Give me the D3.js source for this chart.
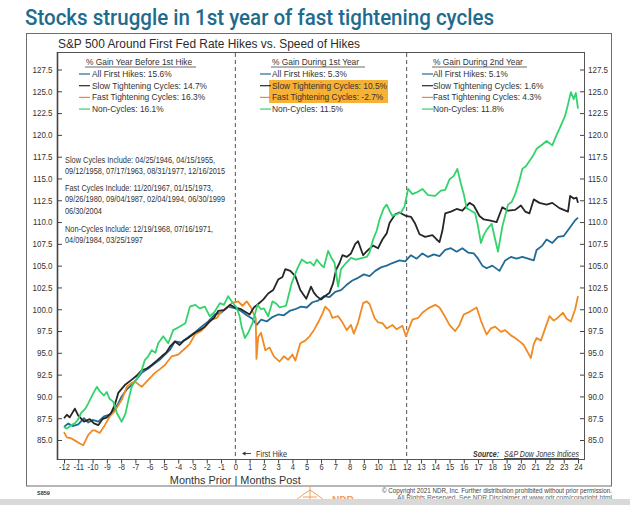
<!DOCTYPE html>
<html>
<head>
<meta charset="utf-8">
<script src="https://cdn.jsdelivr.net/npm/d3@7"></script>
<style>
  html, body { margin: 0; padding: 0; background: #fff; }
  svg { display: block; }
  .narrow { font-family: "Liberation Sans", Arial, sans-serif; }
  .arial { font-family: "Liberation Sans", Arial, sans-serif; }
</style>
</head>
<body>
<div id="chart"></div>
<script>
(function (d3) {
    'use strict';

    // ---- data (month offset, index level) ----
    var seriesNames = ['All First Hikes', 'Slow Tightening Cycles', 'Fast Tightening Cycles', 'Non-Cycles'];
    var seriesColors = ['#1f6b98', '#262626', '#f08a24', '#33d36b'];

    var gainBefore = [15.6, 14.7, 16.3, 16.1];
    var gainYear1 = [5.3, 10.5, -2.7, 11.5];
    var gainYear2 = [5.1, 1.6, 4.3, 11.8];

    var xTickLabels = [-12, -11, -10, -9, -8, -7, -6, -5, -4, -3, -2, -1, 0, 1, 2, 3, 4, 5, 6, 7, 8, 9, 10, 11, 12,
        13, 14, 15, 16, 17, 18, 19, 20, 21, 22, 23, 24];
    var yTickLabels = [85, 87.5, 90, 92.5, 95, 97.5, 100, 102.5, 105, 107.5, 110, 112.5, 115, 117.5, 120, 122.5, 125, 127.5];

    var allHikes = [[-12,86.5],[-11.7,86.9],[-11.4,86.6],[-11,86.8],[-10.6,87.5],[-10.3,87.0],[-10,87.3],[-9.6,87.1],
        [-9.2,87.7],[-8.8,87.9],[-8.5,88.4],[-8.2,89.2],[-7.96,90.0],[-7.6,90.8],[-7.27,91.3],[-6.9,92.0],[-6.56,92.7],
        [-6.1,93.2],[-5.63,93.8],[-5.3,94.2],[-4.93,94.8],[-4.6,95.3],[-4.23,96.3],[-3.8,96.2],[-3.3,96.8],[-2.8,97.4],
        [-2.36,98.0],[-1.9,98.6],[-1.43,99.4],[-1.0,99.6],[-0.5,100.3],[0,100.1],[0.4,99.8],[0.8,99.3],[1.2,98.9],
        [1.5,98.2],[1.8,98.8],[2.2,98.6],[2.6,99.1],[3.0,99.4],[3.4,99.3],[3.8,99.8],[4.2,100.0],[4.6,100.3],[5.0,100.2],
        [5.4,100.8],[5.8,101.0],[6.2,101.5],[6.6,101.4],[7.0,102.0],[7.4,102.2],[7.8,102.8],[8.2,103.3],[8.6,103.6],
        [9.0,104.0],[9.4,103.8],[9.8,104.4],[10.2,104.8],[10.6,105.0],[11.0,105.3],[11.5,105.6],[11.9,105.5],[12.3,106.2],
        [12.7,105.8],[13.1,106.4],[13.5,106.0],[13.9,106.3],[14.3,106.1],[14.7,106.8],[15.1,107.0],[15.5,106.6],
        [15.9,107.0],[16.3,106.5],[16.7,106.4],[17.0,105.8],[17.3,105.0],[17.6,104.7],[18.0,105.0],[18.5,104.4],
        [18.9,105.6],[19.3,106.0],[19.7,105.8],[20.1,106.0],[20.5,105.8],[20.9,105.6],[21.1,106.8],[21.5,107.3],
        [21.8,108.0],[22.2,107.6],[22.6,108.3],[23.0,108.4],[23.4,109.3],[23.8,110.2],[24,110.5]];

    var slowCycles = [[-12,87.5],[-11.8,87.9],[-11.6,87.6],[-11.24,88.6],[-11.0,87.8],[-10.6,87.1],[-10.2,87.4],
        [-9.9,86.9],[-9.6,86.7],[-9.3,87.4],[-9.0,87.6],[-8.7,88.1],[-8.45,89.0],[-8.2,90.4],[-7.74,91.3],[-7.27,91.9],
        [-6.9,92.4],[-6.56,93.0],[-6.2,93.2],[-5.86,93.6],[-5.5,94.1],[-5.16,94.6],[-4.85,95.0],[-4.58,95.7],[-4.23,96.3],
        [-3.9,95.9],[-3.6,96.4],[-3.3,96.7],[-2.83,97.3],[-2.5,97.6],[-2.13,98.0],[-1.8,98.6],[-1.5,99.0],[-1.2,99.8],
        [-0.8,99.9],[-0.38,100.5],[0,100.2],[0.4,100.0],[0.8,99.6],[1.0,99.4],[1.3,100.2],[1.6,100.6],[1.95,101.1],
        [2.3,101.8],[2.65,102.2],[3.0,103.4],[3.3,103.7],[3.5,104.6],[3.85,104.4],[4.2,103.8],[4.55,102.2],[4.8,101.6],
        [4.97,101.2],[5.3,102.6],[5.5,101.9],[5.7,101.5],[6.0,101.1],[6.2,101.4],[6.6,101.9],[6.85,103.0],[7.05,104.5],
        [7.3,105.3],[7.5,106.2],[7.8,106.0],[8.1,106.4],[8.4,107.5],[8.6,107.8],[8.95,106.2],[9.3,106.8],[9.65,107.3],
        [10.0,107.0],[10.3,108.0],[10.6,108.7],[10.8,109.9],[11.2,110.9],[11.5,111.1],[11.95,110.7],[12.3,110.6],
        [12.6,109.8],[12.9,108.6],[13.3,108.3],[13.8,108.5],[14.1,108.0],[14.3,107.7],[14.5,109.0],[14.7,111.0],
        [15.1,111.2],[15.5,111.5],[15.9,111.3],[16.4,112.2],[16.7,111.9],[17.1,110.7],[17.4,110.3],[17.8,110.2],
        [18.3,110.0],[18.7,111.7],[19.1,111.3],[19.6,111.4],[20.0,111.9],[20.3,111.2],[20.6,111.0],[20.9,112.6],
        [21.3,112.2],[21.8,112.0],[22.2,112.2],[22.7,111.6],[23.0,111.4],[23.3,111.2],[23.45,113.0],[23.7,112.7],
        [23.9,112.8],[24,112.2]];

    var fastCycles = [[-12,85.9],[-11.8,85.3],[-11.5,85.2],[-11.2,84.9],[-10.9,84.6],[-10.65,84.4],[-10.3,85.6],
        [-10.0,86.1],[-9.84,86.1],[-9.5,85.8],[-9.14,86.7],[-8.8,87.7],[-8.45,88.3],[-7.96,89.6],[-7.6,91.1],[-7.3,91.5],
        [-7.03,91.7],[-6.56,91.1],[-6.1,91.9],[-5.63,92.7],[-5.3,93.1],[-4.93,93.6],[-4.46,94.6],[-4.0,94.8],[-3.53,95.5],
        [-3.2,96.0],[-2.83,97.1],[-2.4,97.5],[-2.0,98.2],[-1.66,98.8],[-1.3,99.0],[-0.96,99.8],[-0.6,100.1],[-0.26,100.7],
        [0.2,100.9],[0.5,100.4],[0.8,100.9],[1.1,100.2],[1.3,99.4],[1.43,99.0],[1.48,94.3],[1.6,96.8],[1.8,97.3],
        [2.1,95.3],[2.4,95.6],[2.7,94.6],[3.1,94.0],[3.4,94.6],[3.7,94.2],[4.0,94.8],[4.2,94.1],[4.55,96.1],[4.9,96.4],
        [5.2,96.9],[5.5,97.6],[5.9,98.8],[6.1,99.5],[6.3,100.3],[6.6,99.8],[6.8,99.0],[7.2,99.2],[7.5,98.5],[7.8,97.6],
        [8.1,98.2],[8.3,97.2],[8.6,98.5],[8.95,100.7],[9.2,100.9],[9.4,100.6],[9.75,99.0],[10.0,98.5],[10.3,98.4],
        [10.6,97.8],[11.0,98.2],[11.3,97.7],[11.7,98.1],[11.95,96.9],[12.4,98.8],[12.8,99.0],[13.1,99.6],[13.5,100.1],
        [14.0,100.5],[14.3,100.2],[14.6,99.4],[15.0,98.2],[15.4,97.5],[15.7,98.2],[16.0,99.4],[16.4,99.7],[16.9,100.2],
        [17.2,98.7],[17.6,97.1],[17.9,97.8],[18.2,98.0],[18.6,97.4],[18.9,97.6],[19.3,97.0],[19.6,96.7],[20.0,96.2],
        [20.2,95.9],[20.5,95.0],[20.7,94.4],[20.9,96.0],[21.1,96.7],[21.4,96.4],[21.7,97.8],[22.0,99.2],[22.3,98.7],
        [22.5,98.9],[22.95,99.6],[23.2,98.9],[23.5,98.6],[23.8,100.0],[24,101.5]];

    var nonCycles = [[-12,86.5],[-11.8,86.3],[-11.5,86.7],[-11.24,86.9],[-11.0,87.4],[-10.8,88.1],[-10.5,88.6],
        [-10.3,89.2],[-10.0,90.2],[-9.7,91.1],[-9.5,90.6],[-9.2,90.1],[-9.0,90.5],[-8.8,89.7],[-8.55,89.4],[-8.3,88.1],
        [-7.96,87.1],[-7.7,88.0],[-7.5,89.5],[-7.26,91.1],[-6.8,92.3],[-6.6,92.8],[-6.33,94.2],[-6.1,94.6],[-5.86,95.3],
        [-5.6,95.0],[-5.4,96.1],[-5.05,96.9],[-4.7,96.1],[-4.35,97.6],[-4.0,97.9],[-3.5,98.4],[-3.18,100.3],[-2.8,100.5],
        [-2.5,100.1],[-2.13,100.3],[-1.8,99.2],[-1.5,99.6],[-1.08,100.7],[-0.8,100.5],[-0.5,101.5],[-0.3,101.0],
        [0.09,100.2],[0.3,99.2],[0.44,98.0],[0.67,96.7],[0.9,97.3],[1.2,98.4],[1.55,100.5],[1.8,100.0],[2.0,100.1],
        [2.3,99.2],[2.6,100.9],[2.9,100.6],[3.1,100.2],[3.55,100.4],[3.95,103.0],[4.3,104.5],[4.65,105.7],[5.0,105.3],
        [5.25,105.4],[5.5,105.0],[5.7,105.7],[6.0,105.1],[6.2,104.8],[6.5,106.7],[6.7,106.0],[6.95,105.3],[7.2,102.6],
        [7.4,104.6],[7.75,105.3],[8.1,105.9],[8.45,105.7],[8.9,105.9],[9.2,106.0],[9.4,106.5],[9.65,108.0],[9.9,109.0],
        [10.1,110.3],[10.4,111.6],[10.6,112.0],[10.8,111.3],[11.0,110.7],[11.3,110.9],[11.6,111.1],[11.85,111.8],
        [12.1,113.8],[12.4,113.2],[12.7,113.4],[13.1,113.8],[13.5,113.1],[14.0,113.0],[14.4,113.6],[14.7,113.7],
        [15.0,114.9],[15.3,115.3],[15.55,116.1],[15.8,114.4],[16.0,113.2],[16.2,111.6],[16.4,111.4],[16.8,111.0],
        [17.0,109.5],[17.2,107.6],[17.4,108.5],[17.6,109.1],[17.95,109.8],[18.2,108.0],[18.4,106.6],[18.7,109.5],
        [19.1,112.0],[19.35,112.3],[19.6,113.2],[19.9,114.8],[20.1,116.1],[20.35,116.4],[20.6,117.0],[20.85,117.6],
        [21.1,118.4],[21.5,118.9],[21.8,119.3],[22.2,118.8],[22.5,120.0],[22.7,120.7],[23.1,122.2],[23.3,123.5],
        [23.5,124.9],[23.7,124.1],[23.85,124.8],[24,123.0]];

    var seriesData = [allHikes, slowCycles, fastCycles, nonCycles];
    var drawOrder = [0, 2, 1, 3];

    var cycleNotes = [
        ['Slow Cycles Include: 04/25/1946, 04/15/1955,', '09/12/1958, 07/17/1963, 08/31/1977, 12/16/2015'],
        ['Fast Cycles Include: 11/20/1967, 01/15/1973,', '09/26/1980, 09/04/1987, 02/04/1994, 06/30/1999', '06/30/2004'],
        ['Non-Cycles Include: 12/19/1968, 07/16/1971,', '04/09/1984, 03/25/1997']
    ];

    // ---- layout ----
    var width = 630, height = 505,
        plot = { left: 57, right: 584, top: 52, bottom: 459 };

    // no narrow face installed, so squeeze the regular one
    function squeeze(sel, ratio) {
        sel.each(function () {
            var w = this.getComputedTextLength();
            d3.select(this)
                .attr('textLength', w * ratio)
                .attr('lengthAdjust', 'spacingAndGlyphs');
        });
        return sel;
    }

    var svg = d3.select('#chart').append('svg')
        .attr('width', width)
        .attr('height', height);

    var x = d3.scaleLinear().domain([-12, 24]).range([64, 578]);
    var y = d3.scaleLinear().domain([85, 127.5]).range([440, 69.5]);

    // title
    svg.append('text')
        .attr('x', 25).attr('y', 25)
        .attr('font-family', 'Roboto, "Open Sans", sans-serif')
        .attr('font-weight', 500)
        .attr('font-size', 21.5)
        .attr('fill', '#1e6b8d')
        .attr('textLength', 469)
        .attr('lengthAdjust', 'spacingAndGlyphs')
        .text('Stocks struggle in 1st year of fast tightening cycles');

    // outer frame
    svg.append('rect')
        .attr('x', 26.5).attr('y', 33.5)
        .attr('width', 585).attr('height', 452.5)
        .attr('fill', 'none')
        .attr('stroke', '#6d6d6d')
        .attr('stroke-width', 1);

    svg.append('text')
        .attr('class', 'narrow')
        .attr('x', 58).attr('y', 47.5)
        .attr('font-size', 12.5)
        .attr('fill', '#2b2b2b')
        .attr('textLength', 302)
        .attr('lengthAdjust', 'spacingAndGlyphs')
        .text('S&P 500 Around First Fed Rate Hikes vs. Speed of Hikes');

    // plot box
    svg.append('rect')
        .attr('x', plot.left + 0.5).attr('y', plot.top + 0.5)
        .attr('width', plot.right - plot.left).attr('height', plot.bottom - plot.top)
        .attr('fill', 'none')
        .attr('stroke', '#555')
        .attr('stroke-width', 1);

    svg.append('line')
        .attr('x1', plot.left + 0.5).attr('x2', plot.left + 0.5)
        .attr('y1', plot.top).attr('y2', plot.bottom + 1)
        .attr('stroke', '#444').attr('stroke-width', 1.6);

    // dashed dividers at first hike and month 12
    svg.selectAll('line.divider')
        .data([0, 12])
        .enter().append('line')
        .attr('class', 'divider')
        .attr('x1', function (d) { return x(d); })
        .attr('x2', function (d) { return x(d); })
        .attr('y1', plot.top + 1).attr('y2', plot.bottom)
        .attr('stroke', '#555')
        .attr('stroke-width', 1)
        .attr('stroke-dasharray', '4,3');

    // axes
    var leftAxis = d3.axisRight(y).tickValues(yTickLabels).tickSize(5).tickFormat('');
    var gl = svg.append('g').attr('transform', 'translate(' + plot.left + ',0)').call(leftAxis);
    gl.select('.domain').remove();

    var rightAxis = d3.axisLeft(y).tickValues(yTickLabels).tickSize(4).tickFormat('');
    var gr = svg.append('g').attr('transform', 'translate(' + plot.right + ',0)').call(rightAxis);
    gr.select('.domain').remove();

    var bottomAxis = d3.axisBottom(x).tickValues(xTickLabels).tickSize(4)
        .tickFormat(function (d) { return String(d); });
    var gb = svg.append('g').attr('transform', 'translate(0,' + (plot.bottom + 0.5) + ')').call(bottomAxis);
    gb.select('.domain').remove();
    gb.attr('font-family', null).attr('font-size', null);
    squeeze(gb.selectAll('text')
        .attr('class', 'narrow')
        .attr('font-size', 9.5)
        .attr('fill', '#333')
        .attr('dy', '0.8em')
        .attr('y', 3), 0.8);
    svg.selectAll('.tick line').attr('stroke', '#444');

    squeeze(svg.selectAll('text.ylab-l')
        .data(yTickLabels)
        .enter().append('text')
        .attr('class', 'ylab-l narrow')
        .attr('x', 52.5)
        .attr('y', function (d) { return y(d); })
        .attr('dy', '0.35em')
        .attr('text-anchor', 'end')
        .attr('font-size', 9.5)
        .attr('fill', '#333')
        .text(d3.format('.1f')), 0.84);

    squeeze(svg.selectAll('text.ylab-r')
        .data(yTickLabels)
        .enter().append('text')
        .attr('class', 'ylab-r narrow')
        .attr('x', 588)
        .attr('y', function (d) { return y(d); })
        .attr('dy', '0.35em')
        .attr('font-size', 9.5)
        .attr('fill', '#333')
        .text(d3.format('.1f')), 0.84);

    // lines
    var line = d3.line()
        .x(function (d) { return x(d[0]); })
        .y(function (d) { return y(d[1]); });

    svg.selectAll('path.series')
        .data(drawOrder)
        .enter().append('path')
        .attr('class', 'series')
        .attr('d', function (i) { return line(seriesData[i]); })
        .attr('fill', 'none')
        .attr('stroke', function (i) { return seriesColors[i]; })
        .attr('stroke-width', 1.8)
        .attr('stroke-linejoin', 'round');

    // legends
    var legendCols = [
        { header: '% Gain Year Before 1st Hike', hx: 86, sx: 79, tx: 92, gains: gainBefore, under: 111 },
        { header: '% Gain During 1st Year', hx: 272, sx: 260, tx: 272, gains: gainYear1, under: 94 },
        { header: '% Gain During 2nd Year', hx: 433, sx: 422, tx: 433, gains: gainYear2, under: 95 }
    ];

    // highlight behind slow/fast in year 1
    svg.append('rect')
        .attr('x', 269).attr('y', 80)
        .attr('width', 119).attr('height', 23)
        .attr('fill', '#f7b135');

    legendCols.forEach(function (col) {
        var g = svg.append('g').attr('class', 'arial');
        g.append('text')
            .attr('x', col.hx).attr('y', 65)
            .attr('font-size', 8.4)
            .attr('fill', '#333')
            .text(col.header);
        g.append('line')
            .attr('x1', col.hx - 1).attr('x2', col.hx - 1 + col.under)
            .attr('y1', 67).attr('y2', 67)
            .attr('stroke', '#444').attr('stroke-width', 0.8);

        seriesNames.forEach(function (name, i) {
            var cy = 74 + i * 11.7;
            g.append('line')
                .attr('x1', col.sx).attr('x2', col.sx + 11)
                .attr('y1', cy).attr('y2', cy)
                .attr('stroke', seriesColors[i])
                .attr('stroke-width', 1.2);
            g.append('text')
                .attr('x', col.tx).attr('y', cy)
                .attr('dy', '0.35em')
                .attr('font-size', 8.4)
                .attr('fill', '#333')
                .text(name + ': ' + col.gains[i] + '%');
        });
    });

    // cycle date notes
    var noteY = [160, 188, 229];
    cycleNotes.forEach(function (lines, k) {
        lines.forEach(function (t, j) {
            squeeze(svg.append('text')
                .attr('class', 'narrow')
                .attr('x', 65)
                .attr('y', noteY[k] + j * 11.3)
                .attr('dy', '0.35em')
                .attr('font-size', 9)
                .attr('fill', '#333')
                .text(t), 0.82);
        });
    });

    // first hike marker
    svg.append('line')
        .attr('x1', 243).attr('x2', 251)
        .attr('y1', 453.5).attr('y2', 453.5)
        .attr('stroke', '#333').attr('stroke-width', 0.9);
    svg.append('path')
        .attr('d', 'M242,453.5 L245.5,451.6 L245.5,455.4 Z')
        .attr('fill', '#333');
    squeeze(svg.append('text')
        .attr('class', 'narrow')
        .attr('x', 256).attr('y', 454)
        .attr('dy', '0.35em')
        .attr('font-size', 9)
        .attr('fill', '#333')
        .text('First Hike'), 0.82);

    // source
    svg.append('text')
        .attr('class', 'narrow')
        .attr('x', 499).attr('y', 454)
        .attr('dy', '0.35em')
        .attr('text-anchor', 'end')
        .attr('font-size', 9)
        .attr('font-style', 'italic')
        .attr('font-weight', 'bold')
        .attr('fill', '#333')
        .attr('textLength', 26)
        .attr('lengthAdjust', 'spacingAndGlyphs')
        .text('Source:');
    svg.append('text')
        .attr('class', 'narrow')
        .attr('x', 579).attr('y', 454)
        .attr('dy', '0.35em')
        .attr('text-anchor', 'end')
        .attr('font-size', 9)
        .attr('font-style', 'italic')
        .attr('text-decoration', 'underline')
        .attr('fill', '#333')
        .attr('textLength', 75)
        .attr('lengthAdjust', 'spacingAndGlyphs')
        .text('S&P Dow Jones Indices');

    // axis caption
    svg.append('text')
        .attr('class', 'narrow')
        .attr('x', x(0)).attr('y', 483.5)
        .attr('text-anchor', 'middle')
        .attr('font-size', 11)
        .attr('fill', '#333')
        .attr('textLength', 131)
        .attr('lengthAdjust', 'spacingAndGlyphs')
        .text('Months Prior | Months Post');

    // footer
    svg.append('text')
        .attr('class', 'arial')
        .attr('x', 37).attr('y', 495)
        .attr('font-size', 5.5)
        .attr('font-weight', 'bold')
        .attr('fill', '#333')
        .text('S859');

    svg.append('text')
        .attr('class', 'narrow')
        .attr('x', 612).attr('y', 493)
        .attr('text-anchor', 'end')
        .attr('font-size', 6.5)
        .attr('fill', '#444')
        .attr('textLength', 230)
        .attr('lengthAdjust', 'spacingAndGlyphs')
        .text('\u00a9 Copyright 2021 NDR, Inc. Further distribution prohibited without prior permission.');
    svg.append('text')
        .attr('class', 'narrow')
        .attr('x', 612).attr('y', 500)
        .attr('text-anchor', 'end')
        .attr('font-size', 6.5)
        .attr('fill', '#666')
        .attr('textLength', 215)
        .attr('lengthAdjust', 'spacingAndGlyphs')
        .text('All Rights Reserved. See NDR Disclaimer at www.ndr.com/copyright.html');

    // logo (partly hidden by the band)
    var logo = svg.append('g').attr('stroke', '#f0a05a').attr('fill', 'none').attr('stroke-width', 1);
    logo.append('path').attr('d', 'M296,500 L304,494 L310,490 L316,494 L324,500');
    logo.append('path').attr('d', 'M310,486 L310,500 M303,497 L317,497');
    svg.append('text')
        .attr('x', 332).attr('y', 504)
        .attr('font-family', '"Liberation Sans", sans-serif')
        .attr('font-weight', 'bold')
        .attr('font-size', 10)
        .attr('fill', '#f0a05a')
        .text('NDR');

    svg.append('rect')
        .attr('x', 0).attr('y', 499)
        .attr('width', width).attr('height', 6)
        .attr('fill', '#d9d9d9');

})(d3);
</script>
</body>
</html>
